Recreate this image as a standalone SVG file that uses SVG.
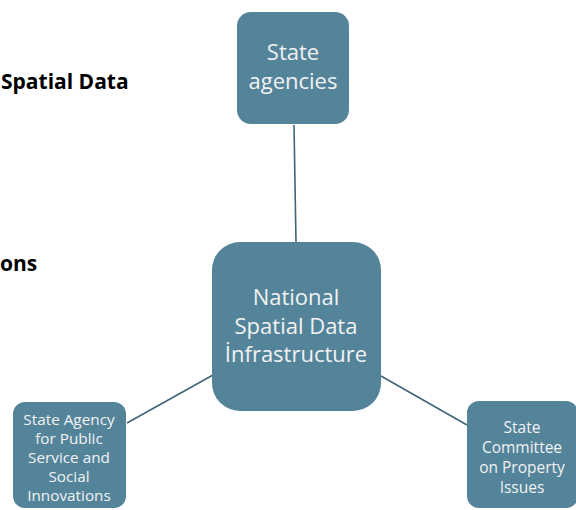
<svg xmlns="http://www.w3.org/2000/svg" width="576" height="510" viewBox="0 0 576 510">
<style>
.box{fill:#53849A;}
.t{font-family:"Open Sans","Liberation Sans",sans-serif;fill:#F2F2F2;text-anchor:middle;}
.h{font-family:"Open Sans","Liberation Sans",sans-serif;font-weight:bold;fill:#000;}
.c{stroke:#3F6578;stroke-width:1.6;fill:none;}
</style>
<rect width="576" height="510" fill="#fff"/>
<text class="h" x="1" y="89" font-size="21">Spatial Data</text>
<text class="h" x="0" y="271" font-size="21">ons</text>
<g id="connectors">
<line class="c" x1="294" y1="125" x2="296" y2="242"/>
<line class="c" x1="213" y1="375" x2="127" y2="423"/>
<line class="c" x1="381" y1="376" x2="467" y2="425"/>
</g>
<g id="state-agencies">
<rect class="box" x="237" y="12" width="112" height="112" rx="14"/>
<text class="t" font-size="22" x="293" y="60">State</text>
<text class="t" font-size="22" x="293" y="89">agencies</text>
</g>
<g id="nsdi">
<rect class="box" x="212" y="242" width="169" height="169" rx="28"/>
<text class="t" font-size="22" x="296" y="305">National</text>
<text class="t" font-size="22" x="296" y="334">Spatial Data</text>
<text class="t" font-size="22" x="296" y="362">İnfrastructure</text>
</g>
<g id="state-agency-public">
<rect class="box" x="13" y="402" width="113" height="106" rx="12"/>
<text class="t" font-size="15.3" x="69" y="425">State Agency</text>
<text class="t" font-size="15.3" x="69" y="444">for Public</text>
<text class="t" font-size="15.3" x="69" y="463">Service and</text>
<text class="t" font-size="15.3" x="69" y="482">Social</text>
<text class="t" font-size="15.3" x="69" y="501">Innovations</text>
</g>
<g id="state-committee">
<rect class="box" x="467" y="401" width="111" height="107" rx="12"/>
<text class="t" font-size="15.5" x="522" y="433">State</text>
<text class="t" font-size="15.5" x="522" y="453">Committee</text>
<text class="t" font-size="15.5" x="522" y="473">on Property</text>
<text class="t" font-size="15.5" x="522" y="493">Issues</text>
</g>
</svg>
